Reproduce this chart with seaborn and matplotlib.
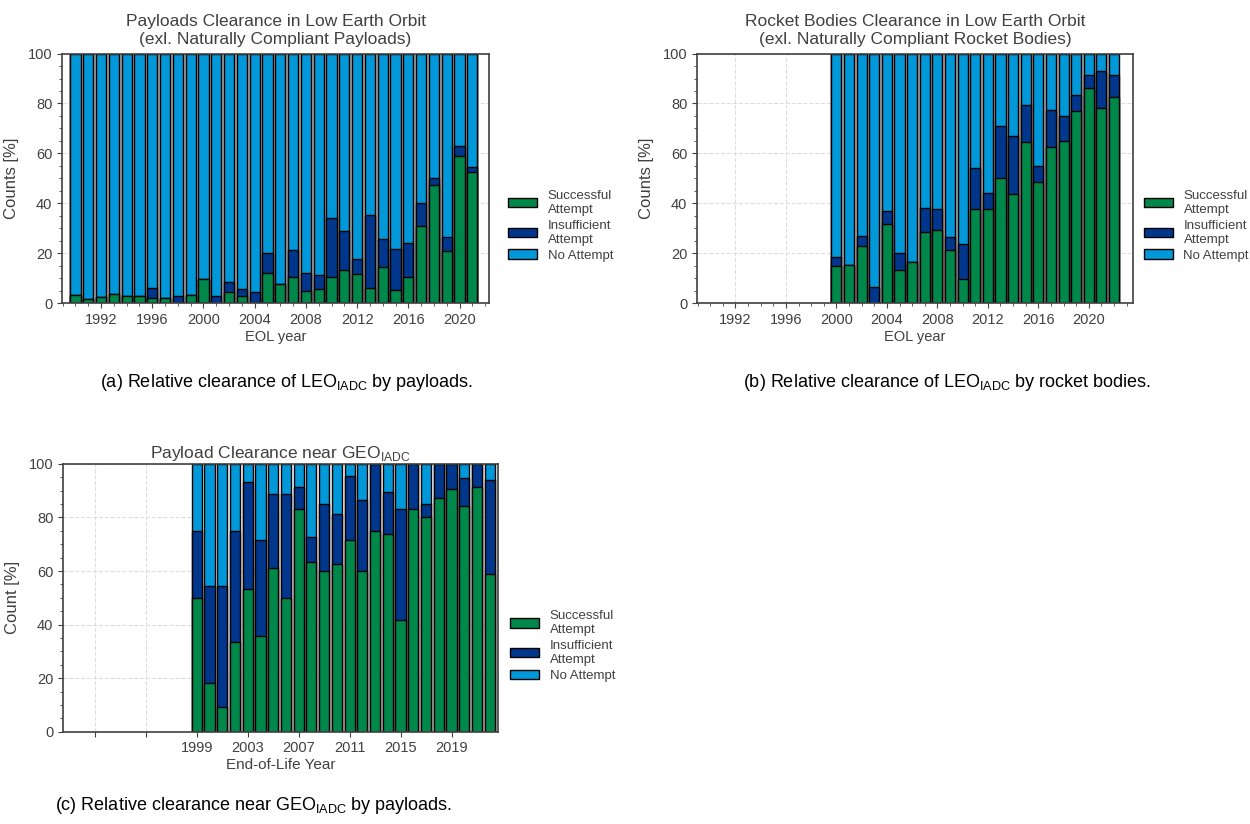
import seaborn as sns
import matplotlib.pyplot as plt
import pandas as pd
from matplotlib.patches import Patch
from matplotlib.ticker import MultipleLocator, FixedLocator

GREEN = "#00874a"
DARK_BLUE = "#00368c"
LIGHT_BLUE = "#0098d9"
GAP_GREY = "#a8a8a8"
TEXT_GREY = "#404040"

# (a) payloads in LEO, shares in percent
LEO_PL_YEARS = list(range(1990, 2022))
LEO_PL_SUCCESS = [3.2, 1.7, 2.4, 3.6, 2.8, 2.8, 2.0, 2.1, 0.0, 3.3,
                  9.6, 0.0, 4.3, 2.9, 0.0, 12.0, 7.6, 10.7, 4.9, 5.9,
                  10.7, 13.2, 11.7, 6.0, 14.7, 5.5, 10.5, 31.1, 47.3, 20.9,
                  58.9, 52.5]
LEO_PL_INSUFF = [0.0, 0.0, 0.0, 0.0, 0.0, 0.0, 4.0, 0.0, 2.8, 0.0,
                 0.0, 2.7, 4.2, 2.7, 4.3, 8.1, 0.0, 10.5, 7.1, 5.6,
                 23.6, 15.9, 6.2, 29.3, 10.9, 16.2, 13.6, 9.0, 2.7, 5.5,
                 3.9, 1.9]

# (b) rocket bodies in LEO
LEO_RB_YEARS = list(range(2000, 2023))
LEO_RB_SUCCESS = [14.9, 15.3, 23.1, 0.0, 31.6, 13.3, 16.7, 28.7, 29.3, 21.2,
                  9.6, 37.6, 37.6, 50.0, 43.6, 64.7, 48.4, 62.7, 64.9, 76.9,
                  86.3, 78.3, 82.8]
LEO_RB_INSUFF = [3.8, 0.0, 4.0, 6.4, 5.3, 6.8, 0.0, 9.4, 8.3, 5.2,
                 14.3, 16.7, 6.4, 21.1, 23.2, 14.6, 6.5, 14.5, 10.2, 6.4,
                 5.2, 14.9, 8.5]

# (c) payloads near GEO
GEO_PL_YEARS = list(range(1999, 2023))
GEO_PL_SUCCESS = [50.1, 18.1, 9.2, 33.4, 53.3, 35.7, 61.1, 50.1, 83.3, 63.5,
                  60.0, 62.5, 71.5, 60.0, 75.1, 73.7, 41.7, 83.3, 80.0, 87.4,
                  90.8, 84.1, 91.2, 58.8]
GEO_PL_INSUFF = [25.0, 36.4, 45.3, 41.7, 40.1, 35.8, 27.8, 38.8, 8.2, 9.2,
                 25.1, 18.8, 23.8, 26.7, 24.9, 15.8, 41.6, 16.7, 5.1, 12.6,
                 9.2, 10.8, 8.8, 35.2]

LEGEND_LABELS = ["Successful\nAttempt", "Insufficient\nAttempt", "No Attempt"]

sns.set_style("ticks")
plt.rcParams["font.family"] = ["Liberation Sans", "DejaVu Sans"]
plt.rcParams["mathtext.fontset"] = "custom"
plt.rcParams["mathtext.rm"] = "Liberation Sans"
plt.rcParams["text.color"] = TEXT_GREY
plt.rcParams["axes.labelcolor"] = TEXT_GREY
plt.rcParams["axes.edgecolor"] = TEXT_GREY
plt.rcParams["xtick.color"] = TEXT_GREY
plt.rcParams["ytick.color"] = TEXT_GREY


def plot_clearance(ax, years, success, insuff, grey_gaps):
    df = pd.DataFrame({"year": years, "success": success, "insuff": insuff})
    df["reached"] = df["success"] + df["insuff"]
    df["total"] = 100.0
    if grey_gaps:
        sns.barplot(data=df, x="year", y="total", native_scale=True, width=1.0,
                    color=GAP_GREY, saturation=1, linewidth=0, errorbar=None, ax=ax)
    for col, color in [("total", LIGHT_BLUE), ("reached", DARK_BLUE), ("success", GREEN)]:
        sns.barplot(data=df, x="year", y=col, native_scale=True, width=0.8,
                    color=color, saturation=1, edgecolor="black", linewidth=1,
                    errorbar=None, ax=ax)
    ax.set_ylim(0, 100)
    ax.yaxis.set_major_locator(MultipleLocator(20))
    ax.yaxis.set_minor_locator(MultipleLocator(5))
    ax.grid(True, which="major", linestyle="--", color="#dddddd", linewidth=0.8)
    ax.set_axisbelow(True)
    for spine in ax.spines.values():
        spine.set_visible(True)
        spine.set_linewidth(1.2)
    ax.tick_params(labelsize=10.5)
    handles = [Patch(facecolor=c, edgecolor="black", label=l)
               for c, l in zip([GREEN, DARK_BLUE, LIGHT_BLUE], LEGEND_LABELS)]
    return handles


fig = plt.figure(figsize=(12.5, 8.24), dpi=100)
ax_a = fig.add_axes([0.0496, 0.632, 0.3416, 0.303])
ax_b = fig.add_axes([0.5576, 0.632, 0.3488, 0.303])
ax_c = fig.add_axes([0.0504, 0.112, 0.348, 0.325])

h = plot_clearance(ax_a, LEO_PL_YEARS, LEO_PL_SUCCESS, LEO_PL_INSUFF, True)
plot_clearance(ax_b, LEO_RB_YEARS, LEO_RB_SUCCESS, LEO_RB_INSUFF, True)
plot_clearance(ax_c, GEO_PL_YEARS, GEO_PL_SUCCESS, GEO_PL_INSUFF, False)

for ax, xlim in [(ax_a, (1988.95, 2022.3)), (ax_b, (1988.95, 2023.5))]:
    ax.set_xlim(*xlim)
    ax.xaxis.set_major_locator(FixedLocator(range(1992, 2021, 4)))
    ax.set_xticklabels([str(y) for y in range(1992, 2021, 4)])
    ax.xaxis.set_minor_locator(MultipleLocator(1))
    ax.set_xlabel("EOL year", fontsize=10.5, labelpad=2)
    ax.set_ylabel("Counts [%]", fontsize=12, labelpad=6)

ax_c.set_xlim(1988.5, 2022.65)
ax_c.xaxis.set_major_locator(FixedLocator(range(1991, 2020, 4)))
ax_c.set_xticklabels(["" if y < 1999 else str(y) for y in range(1991, 2020, 4)])
ax_c.set_xlabel("End-of-Life Year", fontsize=11, labelpad=2)
ax_c.set_ylabel("Count [%]", fontsize=12, labelpad=6)

ax_a.set_title("Payloads Clearance in Low Earth Orbit\n(exl. Naturally Compliant Payloads)",
               fontsize=12.5, linespacing=1.2, pad=7)
ax_b.set_title("Rocket Bodies Clearance in Low Earth Orbit\n(exl. Naturally Compliant Rocket Bodies)",
               fontsize=12.5, linespacing=1.2, pad=7)
ax_c.set_title("Payload Clearance near GEO$_{\\mathrm{IADC}}$", fontsize=12.5, pad=4)

for ax, x0, y0 in [(ax_a, 1.045, 0.31), (ax_b, 1.025, 0.31), (ax_c, 1.028, 0.32)]:
    ax.legend(handles=h, loc="center left", bbox_to_anchor=(x0, y0), frameon=False,
              fontsize=9.5, borderaxespad=0, borderpad=0, handlelength=2.2,
              handletextpad=0.8, labelspacing=0.3)

fig.text(0.229, 0.536, "(a) Relative clearance of LEO$_{\\mathrm{IADC}}$ by payloads.",
         ha="center", va="center", fontsize=13, color="black")
fig.text(0.758, 0.536, "(b) Relative clearance of LEO$_{\\mathrm{IADC}}$ by rocket bodies.",
         ha="center", va="center", fontsize=13, color="black")
fig.text(0.203, 0.023, "(c) Relative clearance near GEO$_{\\mathrm{IADC}}$ by payloads.",
         ha="center", va="center", fontsize=13, color="black")

fig.savefig("out.png", dpi=100)
